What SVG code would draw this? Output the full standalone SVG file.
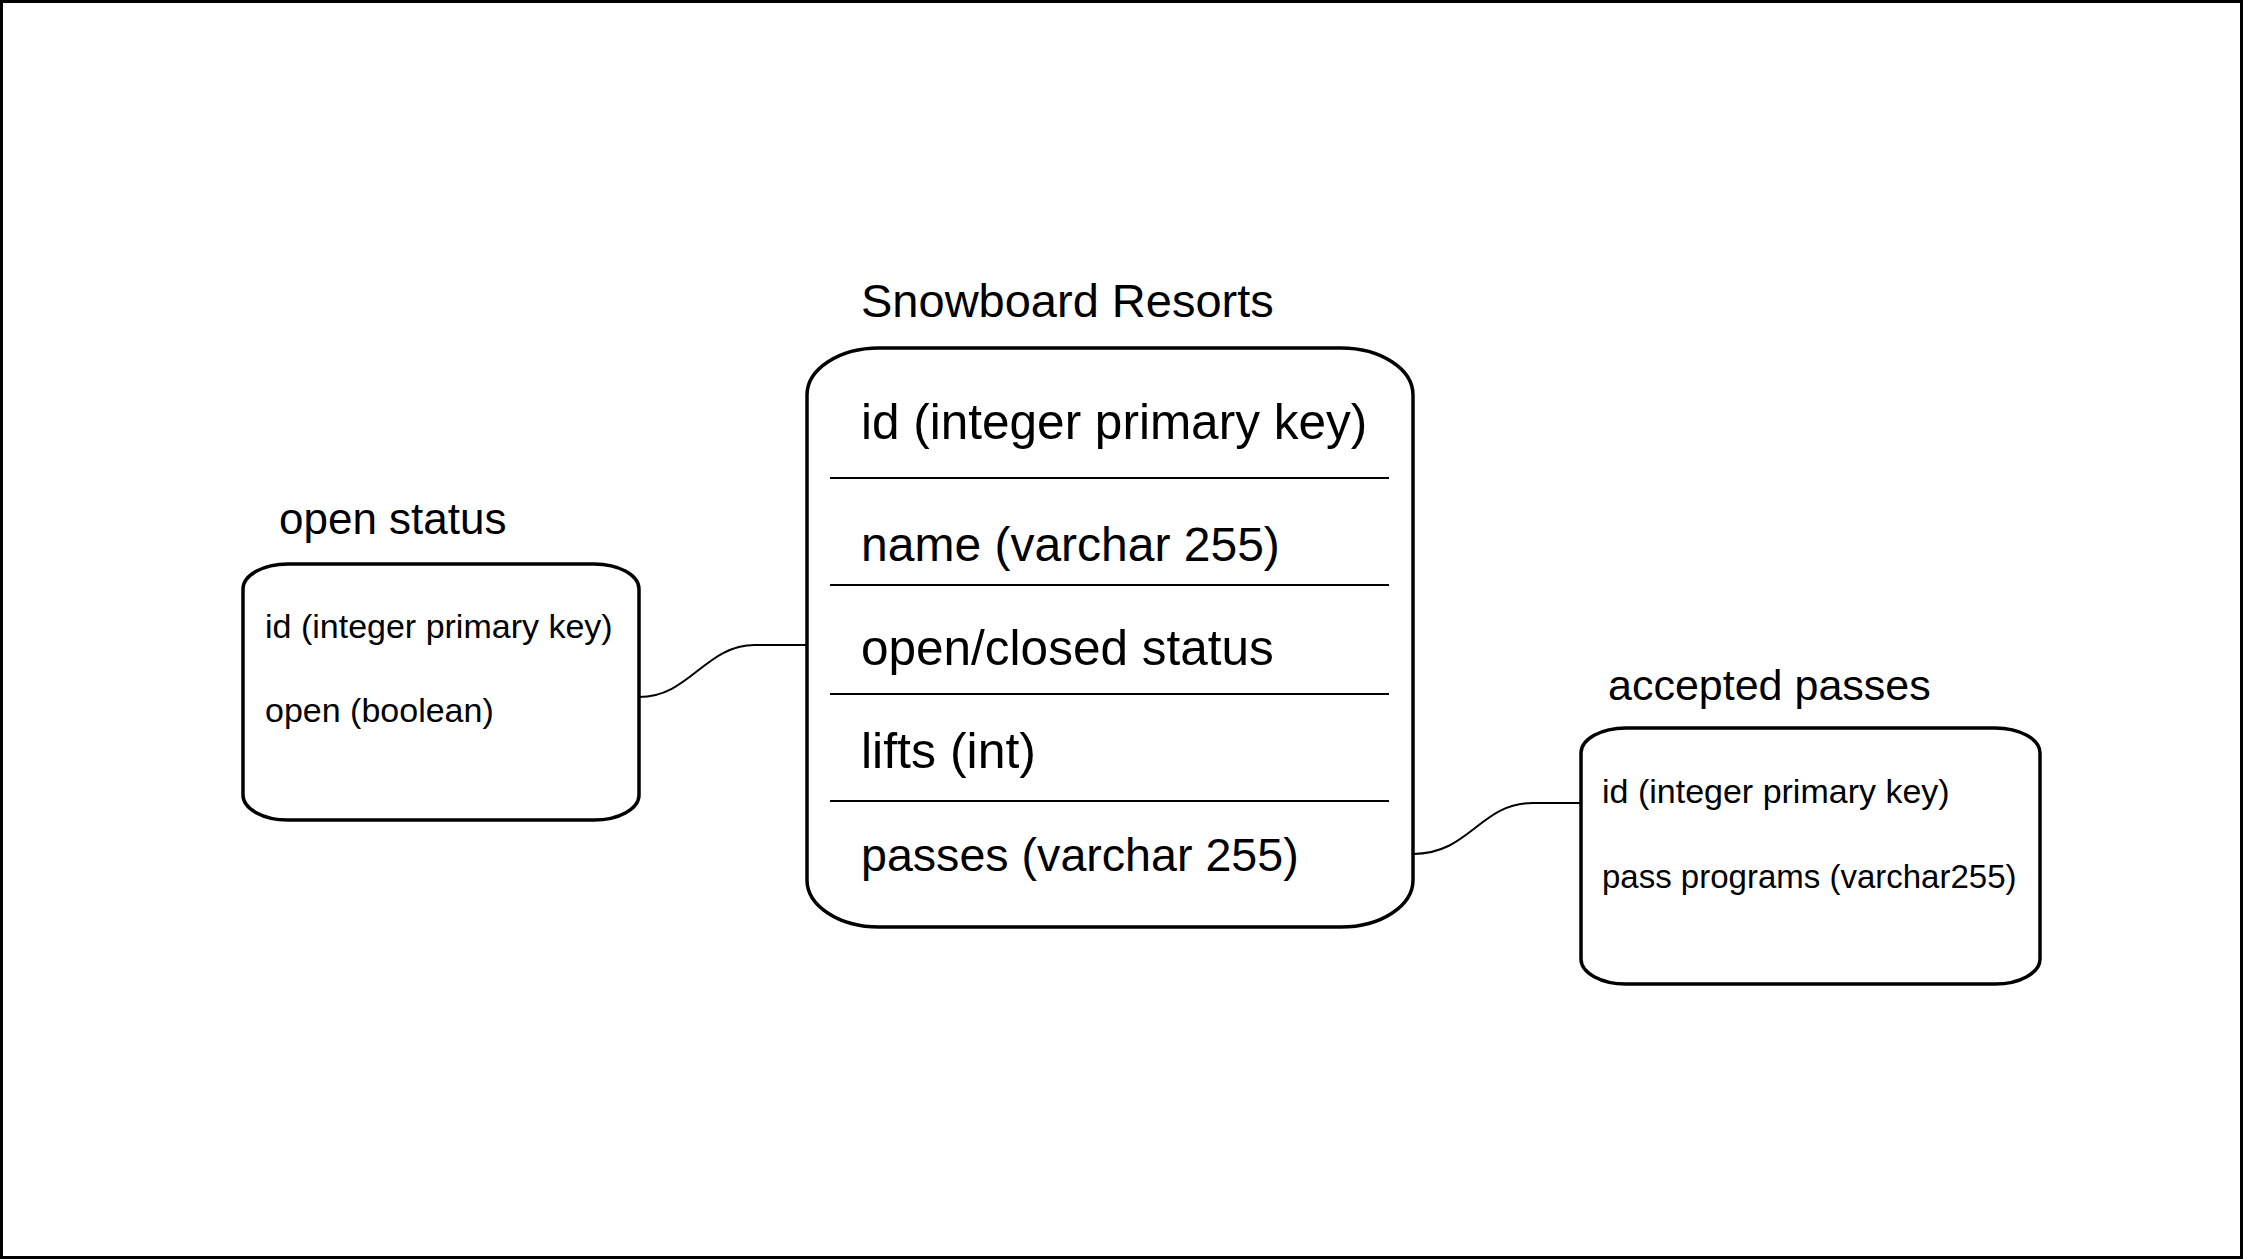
<svg xmlns="http://www.w3.org/2000/svg" width="2243" height="1259" viewBox="0 0 2243 1259">
<style>
.box{fill:#fff;stroke:#000;stroke-width:3.5}
.div{stroke:#000;stroke-width:2}
.con{fill:none;stroke:#000;stroke-width:2}
text{font-family:"Liberation Sans",Arial,sans-serif;fill:#000}
.big{font-size:48px}
.ttl{font-size:47px}
.sm{font-size:34px}
.st{font-size:44px}
</style>
<rect x="0" y="0" width="2243" height="1259" fill="#fff"/>
<rect x="1.5" y="1.5" width="2240" height="1256" fill="none" stroke="#000" stroke-width="3"/>
<g id="connectors">
<path class="con" d="M 639 697 C 690 697, 705 645, 755 645 L 807 645"/>
<path class="con" d="M 1413 854 C 1470 854, 1480 803, 1533 803 L 1581 803"/>
</g>
<g id="snowboard-resorts">
<text class="ttl" x="861" y="317">Snowboard Resorts</text>
<rect class="box" x="807" y="348" width="606" height="579" rx="72" ry="47"/>
<line class="div" x1="830" y1="478" x2="1389" y2="478"/>
<line class="div" x1="830" y1="585" x2="1389" y2="585"/>
<line class="div" x1="830" y1="694" x2="1389" y2="694"/>
<line class="div" x1="830" y1="801" x2="1389" y2="801"/>
<text class="big" x="861" y="439" style="font-size:49.5px">id (integer primary key)</text>
<text class="big" x="861" y="561">name (varchar 255)</text>
<text class="big" x="861" y="665" style="font-size:49.5px">open/closed status</text>
<text class="big" x="861" y="768" style="font-size:50px">lifts (int)</text>
<text class="big" x="861" y="871" style="font-size:46.6px">passes (varchar 255)</text>
</g>
<g id="open-status">
<text class="st" x="279" y="534">open status</text>
<rect class="box" x="243" y="564" width="396" height="256" rx="45" ry="25"/>
<text class="sm" x="265" y="638">id (integer primary key)</text>
<text class="sm" x="265" y="722">open (boolean)</text>
</g>
<g id="accepted-passes">
<text class="st" x="1608" y="700" style="font-size:43px">accepted passes</text>
<rect class="box" x="1581" y="728" width="459" height="256" rx="45" ry="25"/>
<text class="sm" x="1602" y="803">id (integer primary key)</text>
<text class="sm" x="1602" y="888" style="font-size:33px">pass programs (varchar255)</text>
</g>
</svg>
